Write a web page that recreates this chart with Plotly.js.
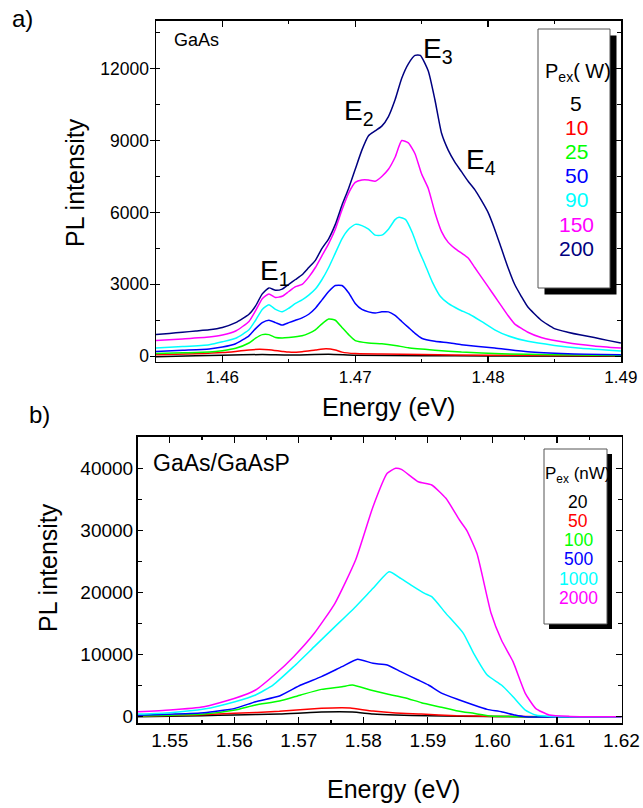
<!DOCTYPE html>
<html>
<head>
<meta charset="utf-8">
<script src="https://cdn.plot.ly/plotly-3.0.1.min.js"></script>
<style>html,body{margin:0;padding:0;background:#fff;}#chart{width:643px;height:808px;}</style>
</head>
<body>
<div id="chart"></div>
<script>
// ---------- Panel a) GaAs ----------
const gaasLabels = ["5", "10", "25", "50", "90", "150", "200"];
const gaasColors = ["#000000", "#ff0000", "#00ff00", "#0000ff", "#00ffff", "#ff00ff", "#000080"];

const gaasE_5 = [1.455,1.458,1.460,1.463,1.465,1.468,1.470,1.475,1.480,1.490];
const gaasI_5 = [-20,20,40,70,50,80,40,20,10,0];

const gaasE_10 = [1.455,1.458,1.460,1.461,1.462,1.4628,1.4635,1.4645,1.465,1.466,1.467,1.4678,1.4685,1.469,1.470,1.472,1.475,1.480,1.485,1.490];
const gaasI_10 = [60,100,150,200,260,290,270,200,170,190,260,310,260,170,110,90,70,40,30,20];

const gaasE_25 = [1.455,1.457,1.459,1.460,1.461,1.462,1.4625,1.463,1.4635,1.464,1.4645,1.465,1.466,1.4665,1.467,1.4675,1.468,1.4685,1.469,1.4695,1.470,1.471,1.472,1.473,1.474,1.476,1.478,1.481,1.485,1.490];
const gaasI_25 = [110,140,170,230,330,550,750,900,900,780,760,780,850,950,1100,1350,1550,1500,1200,900,650,550,520,450,350,250,170,100,60,30];

const gaasE_50 = [1.455,1.457,1.459,1.460,1.461,1.462,1.4625,1.463,1.4635,1.464,1.4645,1.465,1.4655,1.466,1.4665,1.467,1.4675,1.468,1.4685,1.469,1.4695,1.470,1.4705,1.471,1.4715,1.472,1.4725,1.473,1.4735,1.474,1.4745,1.475,1.476,1.477,1.478,1.4805,1.483,1.486,1.490];
const gaasI_50 = [200,250,300,380,520,850,1150,1400,1500,1400,1300,1400,1500,1600,1750,2000,2350,2700,2950,2950,2650,2200,1950,1850,1800,1850,1850,1700,1450,1200,950,750,620,560,480,340,180,100,60];

const gaasE_90 = [1.455,1.457,1.459,1.460,1.461,1.462,1.4625,1.463,1.4635,1.464,1.4645,1.465,1.4655,1.466,1.4665,1.467,1.4675,1.468,1.4685,1.469,1.4695,1.470,1.4705,1.471,1.4715,1.472,1.4725,1.473,1.4733,1.4738,1.4743,1.4748,1.4752,1.4758,1.4764,1.477,1.4778,1.4786,1.4795,1.4805,1.4815,1.483,1.485,1.487,1.490];
const gaasI_90 = [340,400,480,600,750,1100,1500,1950,2150,1950,1850,2000,2200,2350,2550,2800,3200,3700,4300,4900,5300,5500,5450,5300,5050,5050,5300,5700,5800,5700,5150,4400,3900,3100,2500,2200,1950,1750,1450,1100,850,620,450,330,220];

const gaasE_150 = [1.455,1.457,1.459,1.460,1.461,1.462,1.4625,1.463,1.4635,1.464,1.4645,1.465,1.4655,1.466,1.4665,1.467,1.4675,1.468,1.4685,1.469,1.4695,1.470,1.4705,1.471,1.4715,1.472,1.4725,1.473,1.4735,1.474,1.4745,1.475,1.4755,1.476,1.4765,1.477,1.4775,1.478,1.4785,1.479,1.4795,1.480,1.4805,1.481,1.4815,1.482,1.483,1.484,1.486,1.488,1.490];
const gaasI_150 = [650,720,800,880,1050,1450,1900,2400,2600,2450,2500,2700,2900,3000,3300,3700,4200,4700,5300,6100,6800,7250,7350,7350,7300,7500,7800,8300,9000,8900,8450,7600,7000,6000,5200,4750,4500,4300,4100,3700,3300,2900,2500,2100,1700,1350,1000,780,560,430,340];

const gaasE_200 = [1.455,1.456,1.457,1.458,1.459,1.460,1.461,1.462,1.4625,1.463,1.4635,1.464,1.4645,1.465,1.4655,1.466,1.4665,1.467,1.4675,1.468,1.4685,1.469,1.4695,1.470,1.4705,1.471,1.4715,1.472,1.4725,1.473,1.4735,1.474,1.4745,1.4749,1.4755,1.476,1.4765,1.477,1.4775,1.478,1.4785,1.479,1.4795,1.480,1.4805,1.481,1.4815,1.482,1.4825,1.483,1.484,1.485,1.486,1.487,1.488,1.489,1.490];
const gaasI_200 = [900,950,1000,1050,1100,1200,1400,1750,2100,2600,2850,2750,2800,3000,3200,3400,3700,4000,4500,4900,5500,6300,7000,7800,8600,9200,9400,9600,10000,10700,11600,12200,12550,12550,11900,10700,9300,8600,8100,7700,7300,6950,6500,6000,5300,4500,3700,3000,2500,2050,1500,1150,1000,880,780,660,550];

const gaasE = [gaasE_5, gaasE_10, gaasE_25, gaasE_50, gaasE_90, gaasE_150, gaasE_200];
const gaasI = [gaasI_5, gaasI_10, gaasI_25, gaasI_50, gaasI_90, gaasI_150, gaasI_200];
const peakLabels = ["E<sub>1</sub>", "E<sub>2</sub>", "E<sub>3</sub>", "E<sub>4</sub>"];

// ---------- Panel b) GaAs/GaAsP ----------
const qwLabels = ["20", "50", "100", "500", "1000", "2000"];
const qwColors = ["#000000", "#ff0000", "#00ff00", "#0000ff", "#00ffff", "#ff00ff"];

const qwE_20 = [1.545,1.550,1.555,1.560,1.567,1.5735,1.5783,1.5815,1.585,1.590,1.600,1.610,1.620];
const qwI_20 = [0,80,160,270,430,750,750,430,270,160,30,0,0];

const qwE_50 = [1.545,1.550,1.555,1.560,1.567,1.5735,1.5767,1.578,1.5815,1.585,1.589,1.5944,1.600,1.610,1.620];
const qwI_50 = [60,180,320,540,860,1350,1450,1400,900,590,430,160,50,0,0];

const qwE_100 = [1.545,1.550,1.5553,1.5601,1.5633,1.567,1.5703,1.5735,1.5767,1.5783,1.5811,1.5837,1.5864,1.589,1.5917,1.5944,1.5971,1.5998,1.6035,1.620];
const qwI_100 = [100,250,430,1070,1880,2520,3500,4400,4830,5100,4300,3650,3060,2260,1610,970,540,110,0,0];

const qwE_500 = [1.545,1.550,1.5553,1.5601,1.5633,1.567,1.5703,1.5735,1.5767,1.5791,1.5815,1.5837,1.5858,1.5885,1.5901,1.5922,1.5949,1.5971,1.5992,1.6014,1.6035,1.6051,1.620];
const qwI_500 = [215,400,640,1340,2420,3330,5100,6450,8060,9240,8600,8330,7250,5910,5100,3760,2690,1880,1180,800,270,0,0];

const qwE_1000 = [1.545,1.550,1.5553,1.5601,1.5633,1.566,1.5692,1.5724,1.5756,1.5788,1.5815,1.584,1.5858,1.5874,1.5895,1.5906,1.5928,1.5955,1.5971,1.5992,1.6014,1.6032,1.6051,1.6067,1.609,1.620];
const qwI_1000 = [430,650,1230,2420,3500,5100,8060,11280,14500,17720,20670,23350,22280,21200,19860,19320,16640,13430,10200,6710,5100,3220,1070,270,50,0];

const qwE_2000 = [1.545,1.550,1.5553,1.5601,1.5633,1.5665,1.5692,1.5724,1.5756,1.5788,1.5815,1.5837,1.585,1.5859,1.5885,1.5906,1.5928,1.5949,1.596,1.5976,1.5998,1.6014,1.6032,1.6051,1.6067,1.6088,1.612,1.620];
const qwI_2000 = [800,1080,1610,2960,4300,6990,9660,13430,18260,25230,33820,39190,40000,39830,37840,37310,35170,31670,30060,26310,16650,12350,8860,3770,1350,270,50,0];

const qwE = [qwE_20, qwE_50, qwE_100, qwE_500, qwE_1000, qwE_2000];
const qwI = [qwI_20, qwI_50, qwI_100, qwI_500, qwI_1000, qwI_2000];

// ---------- geometry helpers (pixels of the 643x808 page -> paper) ----------
const W = 643, H = 808;
const px = v => v / W;
const py = v => 1 - v / H;
const FONT = "Liberation Sans, Arial, sans-serif";

const traces = [];
gaasE.forEach((e, i) => traces.push({
  x: e, y: gaasI[i], xaxis: "x", yaxis: "y", type: "scatter", mode: "lines",
  line: {color: gaasColors[i], width: 1.5, shape: "spline", smoothing: 0.5},
  showlegend: false, hoverinfo: "skip"
}));
qwE.forEach((e, i) => traces.push({
  x: e, y: qwI[i], xaxis: "x2", yaxis: "y2", type: "scatter", mode: "lines",
  line: {color: qwColors[i], width: 1.5, shape: "spline", smoothing: 0.5},
  showlegend: false, hoverinfo: "skip"
}));
// dummy traces so the right-hand tick axes exist
traces.push({x: [], y: [], xaxis: "x", yaxis: "y3", showlegend: false, hoverinfo: "skip"});
traces.push({x: [], y: [], xaxis: "x2", yaxis: "y4", showlegend: false, hoverinfo: "skip"});

const yRangeA = [-230, 14000];
const yRangeB = [-1015, 45090];

function xAxis(domain, range, anchor, fontSize, lw) {
  return {
    domain: domain, range: range, anchor: anchor,
    tick0: 0, dtick: 0.01, tickformat: ".2f",
    ticks: "inside", ticklen: 6, tickwidth: 1.2, tickcolor: "#000",
    minor: {dtick: 0.005, ticks: "inside", ticklen: 3, tickwidth: 1.2, tickcolor: "#000"},
    showline: true, linecolor: "#000", linewidth: lw, mirror: "ticks",
    showgrid: false, zeroline: false, fixedrange: true,
    tickfont: {family: FONT, size: fontSize, color: "#000"}, ticklabelstandoff: -1
  };
}
function yAxisLeft(domain, range, anchor, dtick, minorDtick, tickDir, fontSize, standoff) {
  return {
    domain: domain, range: range, anchor: anchor,
    tick0: 0, dtick: dtick, tickformat: "d",
    ticks: tickDir, ticklen: 5, tickwidth: 1.2, tickcolor: "#000",
    minor: {dtick: minorDtick, ticks: "inside", ticklen: 4, tickwidth: 1.2, tickcolor: "#000"},
    showline: true, linecolor: "#000", linewidth: 1.5, mirror: true,
    showgrid: false, zeroline: false, fixedrange: true,
    tickfont: {family: FONT, size: fontSize, color: "#000"}, ticklabelstandoff: standoff
  };
}
function yAxisRight(range, overlay, anchor, dtick, minorDtick) {
  return {
    overlaying: overlay, side: "right", anchor: anchor, range: range,
    tick0: 0, dtick: dtick,
    ticks: "inside", ticklen: 6, tickwidth: 1.2, tickcolor: "#000",
    minor: {dtick: minorDtick, ticks: "inside", ticklen: 4, tickwidth: 1.2, tickcolor: "#000"},
    showline: false, showgrid: false, zeroline: false, showticklabels: false, fixedrange: true
  };
}

const annotations = [];
function ann(text, x, y, opts) {
  annotations.push(Object.assign({
    text: text, x: px(x), y: py(y), xref: "paper", yref: "paper",
    showarrow: false, xanchor: "left", yanchor: "middle",
    font: {family: FONT, size: 18, color: "#000"}
  }, opts || {}));
}

// panel labels and texts
ann("a)", 10, 18, {font: {family: FONT, size: 24, color: "#000"}});
ann("b)", 27, 414, {font: {family: FONT, size: 24, color: "#000"}});
ann("GaAs", 172, 40, {font: {family: FONT, size: 18, color: "#000"}});
ann("GaAs/GaAsP", 151, 463, {font: {family: FONT, size: 23, color: "#000"}});

// peak labels
const peakPos = [[258, 272], [342, 112], [421, 50], [464, 162]];
peakLabels.forEach((t, i) => ann(t, peakPos[i][0], peakPos[i][1], {font: {family: FONT, size: 28, color: "#000"}}));

// axis titles
const titleFont = {family: FONT, size: 25, color: "#000"};
ann("PL intensity", 75, 183, {textangle: -90, xanchor: "center", font: titleFont});
ann("PL intensity", 48, 568, {textangle: -90, xanchor: "center", font: titleFont});
ann("Energy (eV)", 388, 407, {xanchor: "center", font: titleFont});
ann("Energy (eV)", 393, 789, {xanchor: "center", font: titleFont});

// legend a)
ann("P<sub>ex</sub>( W)", 578, 73, {xanchor: "center", font: {family: FONT, size: 20, color: "#000"}});
gaasLabels.forEach((t, i) => ann(t, 576, 103 + 24.2 * i, {xanchor: "center", font: {family: FONT, size: 21, color: gaasColors[i]}}));
// legend b)
ann("P<sub>ex</sub> (nW)", 577, 475, {xanchor: "center", font: {family: FONT, size: 17, color: "#000"}});
qwLabels.forEach((t, i) => ann(t, 578, 501.7 + 19.2 * i, {xanchor: "center", font: {family: FONT, size: 17.5, color: qwColors[i]}}));

function boxShapes(x0, y0, x1, y1, off) {
  return [
    {type: "rect", xref: "paper", yref: "paper", x0: px(x0 + off), x1: px(x1 + off), y0: py(y1 + off), y1: py(y0 + off),
     fillcolor: "#000", line: {width: 0}, layer: "above"},
    {type: "rect", xref: "paper", yref: "paper", x0: px(x0), x1: px(x1), y0: py(y1), y1: py(y0),
     fillcolor: "#fff", line: {color: "#555", width: 1}, layer: "above"}
  ];
}
const shapes = [].concat(boxShapes(538, 29, 610, 288, 6.5), boxShapes(544, 449, 607, 624, 5));

const layout = {
  width: W, height: H,
  margin: {l: 0, r: 0, t: 0, b: 0},
  paper_bgcolor: "#fff", plot_bgcolor: "#fff",
  showlegend: false,
  xaxis: xAxis([px(156), px(621)], [1.455, 1.49001], "y", 17, 1.5),
  yaxis: yAxisLeft([py(361.7), py(20.7)], yRangeA, "x", 3000, 1500, "outside", 17.5, -3),
  yaxis3: yAxisRight(yRangeA, "y", "x", 3000, 1500),
  xaxis2: xAxis([px(137.5), px(621.5)], [1.545, 1.62001], "y2", 19, 2),
  yaxis2: yAxisLeft([py(723), py(436.7)], yRangeB, "x2", 10000, 5000, "inside", 19, -1),
  yaxis4: yAxisRight(yRangeB, "y2", "x2", 10000, 5000),
  annotations: annotations,
  shapes: shapes
};

Plotly.newPlot("chart", traces, layout, {staticPlot: true, displayModeBar: false});
</script>
</body>
</html>
